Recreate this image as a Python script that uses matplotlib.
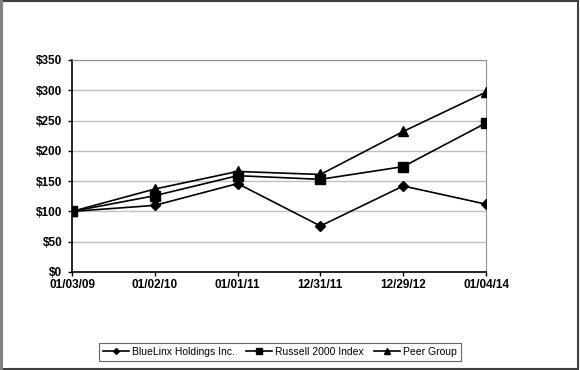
import matplotlib.pyplot as plt
from matplotlib.patches import Rectangle

dates = ['01/03/09', '01/02/10', '01/01/11', '12/31/11', '12/29/12', '01/04/14']
bluelinx = [100, 110, 146, 76, 142, 112]
russell = [100, 126, 159, 153, 174, 246]
peer = [100, 137, 166, 161, 232, 297]
yticks = [0, 50, 100, 150, 200, 250, 300, 350]

plt.rcParams['font.family'] = ['Liberation Sans', 'DejaVu Sans']

fig = plt.figure(figsize=(5.8, 3.7), dpi=100)
ax = fig.add_axes([72 / 580, 98 / 370, 414 / 580, 212 / 370])

x = list(range(len(dates)))
ax.plot(x, bluelinx, c='black', lw=1.2, marker='D', ms=5, label='BlueLinx Holdings Inc.', zorder=3)
ax.plot(x, russell, c='black', lw=1.2, marker='s', ms=7, label='Russell 2000 Index', zorder=3)
ax.plot(x, peer, c='black', lw=1.2, marker='^', ms=7, label='Peer Group', zorder=3)

ax.set_xlim(0, len(dates) - 1)
ax.set_ylim(0, 350)
ax.set_yticks(yticks)
ax.set_yticklabels(['$%d' % v for v in yticks], fontsize=8.5, fontweight='bold')
ax.set_xticks(x)
ax.set_xticklabels(dates, fontsize=8.5, fontweight='bold')
ax.tick_params(axis='both', length=3, width=1, color='black', pad=2)
ax.tick_params(axis='y', pad=4)
ax.yaxis.grid(True, color='#c0c0c0', lw=1)
ax.set_axisbelow(True)
for s in ['top', 'right']:
    ax.spines[s].set_color('#909090')
for s in ['left', 'bottom']:
    ax.spines[s].set_color('black')
    ax.spines[s].set_linewidth(1.2)

leg = fig.legend(loc='center', bbox_to_anchor=(280 / 580, 1 - 352 / 370), ncol=3,
                 fontsize=7.5, frameon=True, fancybox=False, edgecolor='#404040',
                 handlelength=2.5, handletextpad=0.3, columnspacing=1.0,
                 borderpad=0.4, markerscale=0.6)
leg.get_frame().set_linewidth(0.8)

# outer border of the picture
fig.patches.append(Rectangle((0.003, 0.003), 0.994, 0.994, transform=fig.transFigure,
                             fill=False, edgecolor='#404040', lw=1.5))
fig.patches.append(Rectangle((0.0, 0.0), 0.006, 1.0, transform=fig.transFigure,
                             facecolor='#808080', edgecolor='none'))

fig.savefig('out.png', dpi=100)
